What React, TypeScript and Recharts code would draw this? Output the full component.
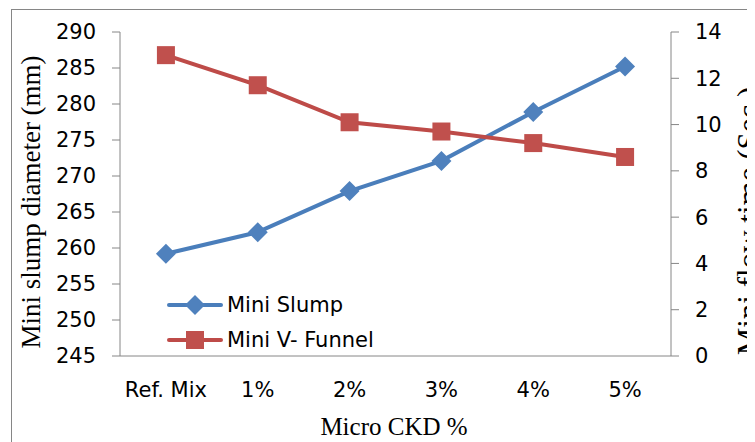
import { LineChart, Line, XAxis, YAxis, Legend, Label } from 'recharts'

const categories = ['Ref. Mix', '1%', '2%', '3%', '4%', '5%']
const miniSlump = [259.2, 262.2, 267.9, 272.1, 278.9, 285.2]
const miniVFunnel = [13.0, 11.7, 10.1, 9.7, 9.2, 8.6]
const slumpTicks = [245, 250, 255, 260, 265, 270, 275, 280, 285, 290]
const flowTicks = [0, 2, 4, 6, 8, 10, 12, 14]

const BLUE_LINE = '#4A7EBB'
const BLUE_MARK = '#4F81BD'
const RED_LINE = '#BE4B48'
const RED_MARK = '#C0504D'
const AXIS = '#868686'
const SANS = '"DejaVu Sans", sans-serif'
const SERIF = '"Liberation Serif", "Times New Roman", serif'

// x runs 0..6, each category sits in the middle of its slot
const chartData = categories.map((name, i) => ({
  x: i + 0.5,
  name,
  slump: miniSlump[i],
  funnel: miniVFunnel[i],
}))
const boundaryTicks = categories.map((_, i) => i).concat(categories.length)
const centerTicks = chartData.map(d => d.x)

const Diamond = (props: any) => {
  const { cx, cy, index } = props
  if (cx == null || cy == null) return <g key={`d-${index}`} />
  const r = 10
  return (
    <polygon
      key={`d-${index}`}
      points={`${cx},${cy - r} ${cx + r},${cy} ${cx},${cy + r} ${cx - r},${cy}`}
      fill={BLUE_MARK}
    />
  )
}

const Square = (props: any) => {
  const { cx, cy, index } = props
  if (cx == null || cy == null) return <g key={`s-${index}`} />
  const h = 9
  return <rect key={`s-${index}`} x={cx - h} y={cy - h} width={h * 2} height={h * 2} fill={RED_MARK} />
}

const legendItems = [
  { label: 'Mini Slump', line: BLUE_LINE, mark: BLUE_MARK, shape: 'diamond' },
  { label: 'Mini V- Funnel', line: RED_LINE, mark: RED_MARK, shape: 'square' },
]

const LegendBox = () => (
  <div>
    {legendItems.map(item => (
      <div key={item.label} style={{ display: 'flex', alignItems: 'center', height: 35 }}>
        <svg width={56} height={22}>
          <line x1={2} y1={11} x2={54} y2={11} stroke={item.line} strokeWidth={4} strokeLinecap="round" />
          {item.shape === 'diamond'
            ? <polygon points="28,1 38,11 28,21 18,11" fill={item.mark} />
            : <rect x={19} y={2} width={18} height={18} fill={item.mark} />}
        </svg>
        <span style={{ fontFamily: SANS, fontSize: 21, color: '#000', marginLeft: 4, whiteSpace: 'nowrap' }}>
          {item.label}
        </span>
      </div>
    ))}
  </div>
)

export default function App() {
  return (
    <div style={{ position: 'relative', width: 747, height: 434, overflow: 'hidden', background: '#fff' }}>
      <div
        style={{
          position: 'absolute', left: 3, top: 1, width: 900, height: 600,
          border: `1px solid ${AXIS}`,
        }}
      />
      <div style={{ position: 'absolute', left: 0, top: 0 }}>
        <LineChart
          width={747}
          height={434}
          data={chartData}
          margin={{ top: 24, right: 24, left: 52, bottom: 38 }}
        >
          <XAxis
            xAxisId="bounds"
            dataKey="x"
            type="number"
            domain={[0, 6]}
            ticks={boundaryTicks}
            tick={false}
            tickSize={8}
            height={8}
            stroke={AXIS}
            allowDataOverflow
          />
          <XAxis
            xAxisId="labels"
            dataKey="x"
            type="number"
            domain={[0, 6]}
            ticks={centerTicks}
            tickFormatter={(v: number) => categories[Math.floor(v)]}
            axisLine={false}
            tickLine={false}
            tickSize={0}
            tickMargin={18}
            height={40}
            interval={0}
            tick={{ fontFamily: SANS, fontSize: 21, fill: '#000' }}
          >
            <Label
              content={() => (
                <text x={386} y={427} textAnchor="middle" fontFamily={SERIF} fontSize={25} fill="#000">
                  Micro CKD %
                </text>
              )}
            />
          </XAxis>
          <YAxis
            yAxisId="left"
            orientation="left"
            domain={[245, 290]}
            ticks={slumpTicks}
            interval={0}
            width={60}
            stroke={AXIS}
            tickSize={8}
            tickMargin={16}
            tick={{ fontFamily: SANS, fontSize: 21, fill: '#000' }}
          >
            <Label
              content={() => (
                <text
                  x={23}
                  y={194}
                  transform="rotate(-90 23 194)"
                  textAnchor="middle"
                  dominantBaseline="central"
                  fontFamily={SERIF}
                  fontSize={27}
                  fill="#000"
                >
                  Mini slump diameter (mm)
                </text>
              )}
            />
          </YAxis>
          <YAxis
            yAxisId="right"
            orientation="right"
            domain={[0, 14]}
            ticks={flowTicks}
            interval={0}
            width={60}
            stroke={AXIS}
            tickSize={8}
            tickMargin={16}
            tick={{ fontFamily: SANS, fontSize: 21, fill: '#000' }}
          >
            <Label
              content={() => (
                <text
                  x={740}
                  y={213}
                  transform="rotate(-90 740 213)"
                  textAnchor="middle"
                  dominantBaseline="central"
                  fontFamily={SERIF}
                  fontSize={31}
                  fill="#000"
                >
                  Mini flow time (Sec.)
                </text>
              )}
            />
          </YAxis>
          <Legend
            content={<LegendBox />}
            layout="vertical"
            align="center"
            verticalAlign="middle"
            wrapperStyle={{ position: 'absolute', left: 159, top: 279, width: 260 }}
          />
          <Line
            xAxisId="bounds"
            yAxisId="left"
            dataKey="slump"
            name="Mini Slump"
            stroke={BLUE_LINE}
            strokeWidth={4}
            dot={Diamond}
            activeDot={false}
            isAnimationActive={false}
          />
          <Line
            xAxisId="bounds"
            yAxisId="right"
            dataKey="funnel"
            name="Mini V- Funnel"
            stroke={RED_LINE}
            strokeWidth={4}
            dot={Square}
            activeDot={false}
            isAnimationActive={false}
          />
        </LineChart>
      </div>
    </div>
  )
}
